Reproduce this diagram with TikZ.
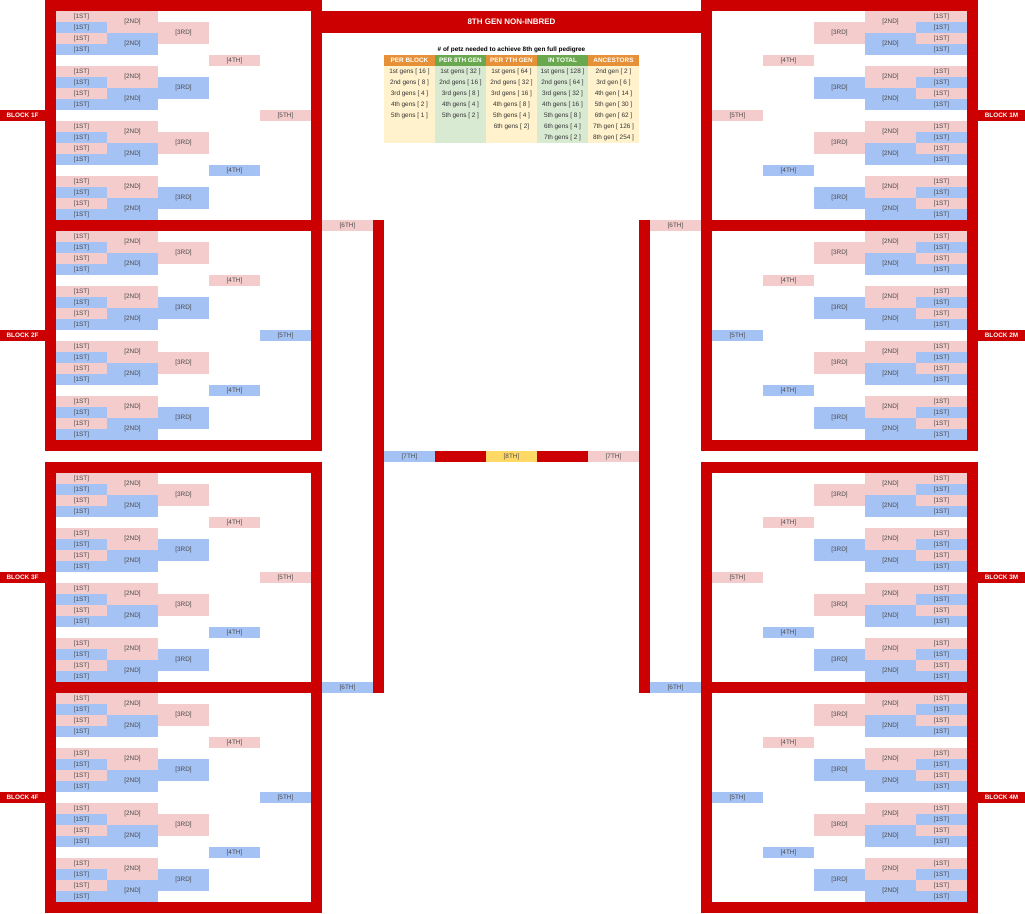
\documentclass[tikz,border=0pt]{standalone}
\usepackage{fontspec}
\setmainfont{Liberation Sans}
\definecolor{redc}{HTML}{CC0000}
\definecolor{pinkc}{HTML}{F4CCCC}
\definecolor{bluec}{HTML}{A4C2F4}
\definecolor{yelc}{HTML}{FFD966}
\definecolor{orc}{HTML}{E69138}
\definecolor{grc}{HTML}{6AA84F}
\definecolor{lyc}{HTML}{FFF2CC}
\definecolor{lgc}{HTML}{D9EAD3}
\definecolor{celltext}{HTML}{4A4A4A}
\definecolor{tabtext}{HTML}{333333}
\begin{document}
\begin{tikzpicture}[x=1pt,y=-1pt,
  cell/.style={anchor=north west, inner sep=0pt, outer sep=0pt, minimum width=51pt, minimum height=11pt, font=\fontsize{6.4}{7}\selectfont, text=celltext},
  tall/.style={minimum height=22pt},
  blabel/.style={anchor=north west, inner sep=0pt, outer sep=0pt, minimum height=11pt, fill=redc, text=white, font=\bfseries\fontsize{6.4}{7}\selectfont},
  thead/.style={anchor=north west, inner sep=0pt, outer sep=0pt, minimum width=51pt, minimum height=11pt, text=white, font=\bfseries\fontsize{6.4}{7}\selectfont},
  tbody/.style={anchor=north west, inner sep=0pt, outer sep=0pt, minimum width=51pt, minimum height=77pt},
  ttext/.style={anchor=center, inner sep=0pt, text=tabtext, font=\fontsize{6.4}{7}\selectfont},
]
\useasboundingbox[fill=white] (0,0) rectangle (1025,913);
% ---- red frames ----
\foreach \xa/\xb in {45/322,701/978}{
  \pgfmathsetmacro{\xc}{\xa+11}
  \pgfmathsetmacro{\xd}{\xb-11}
  \foreach \ya/\yb in {0/451,462/913}{
    \fill[redc] (\xa,\ya) rectangle (\xc,\yb);
    \fill[redc] (\xd,\ya) rectangle (\xb,\yb);
    \pgfmathsetmacro{\ye}{\ya+11}
    \pgfmathsetmacro{\yf}{\ya+220}
    \pgfmathsetmacro{\yg}{\ya+231}
    \pgfmathsetmacro{\yh}{\yb-11}
    \fill[redc] (\xa,\ya) rectangle (\xb,\ye);
    \fill[redc] (\xa,\yf) rectangle (\xb,\yg);
    \fill[redc] (\xa,\yh) rectangle (\xb,\yb);
  }
}
\fill[redc] (373,220) rectangle (384,693);
\fill[redc] (639,220) rectangle (650,693);
\fill[redc] (435,451) rectangle (486,462);
\fill[redc] (537,451) rectangle (588,462);
% ---- banner ----
\node[anchor=north west, inner sep=0pt, outer sep=0pt, minimum width=379pt, minimum height=22pt, fill=redc, text=white, font=\bfseries\fontsize{8}{9}\selectfont] (banner) at (322,11) {8TH GEN NON-INBRED};
% ---- blocks ----
\foreach \b/\R/\cf in {1/1/pinkc,2/21/bluec,3/43/pinkc,4/63/bluec}{
  \foreach \g/\ct in {0/pinkc,1/bluec,2/pinkc,3/bluec}{
    \pgfmathtruncatemacro{\s}{\R+5*\g}
    \foreach \i/\cc in {0/pinkc,1/bluec,2/pinkc,3/bluec}{
      \node[cell,fill=\cc] (LF\b-\g-a\i) at (56,{11*(\s+\i)}) {[1ST]};
      \node[cell,fill=\cc] (RM\b-\g-a\i) at (916,{11*(\s+\i)}) {[1ST]};
    }
    \node[cell,tall,fill=pinkc] (LF\b-\g-b0) at (107,{11*\s}) {[2ND]};
    \node[cell,tall,fill=bluec] (LF\b-\g-b1) at (107,{11*(\s+2)}) {[2ND]};
    \node[cell,tall,fill=\ct] (LF\b-\g-c) at (158,{11*(\s+1)}) {[3RD]};
    \node[cell,tall,fill=pinkc] (RM\b-\g-b0) at (865,{11*\s}) {[2ND]};
    \node[cell,tall,fill=bluec] (RM\b-\g-b1) at (865,{11*(\s+2)}) {[2ND]};
    \node[cell,tall,fill=\ct] (RM\b-\g-c) at (814,{11*(\s+1)}) {[3RD]};
  }
  \node[cell,fill=pinkc] (LF\b-d0) at (209,{11*(\R+4)}) {[4TH]};
  \node[cell,fill=bluec] (LF\b-d1) at (209,{11*(\R+14)}) {[4TH]};
  \node[cell,fill=\cf] (LF\b-e) at (260,{11*(\R+9)}) {[5TH]};
  \node[cell,fill=pinkc] (RM\b-d0) at (763,{11*(\R+4)}) {[4TH]};
  \node[cell,fill=bluec] (RM\b-d1) at (763,{11*(\R+14)}) {[4TH]};
  \node[cell,fill=\cf] (RM\b-e) at (712,{11*(\R+9)}) {[5TH]};
  \node[blabel,minimum width=45pt] (labF\b) at (0,{11*(\R+9)}) {BLOCK \b F};
  \node[blabel,minimum width=47pt] (labM\b) at (978,{11*(\R+9)}) {BLOCK \b M};
}
% ---- 6th / 7th / 8th ----
\node[cell,fill=pinkc] (sixA) at (322,220) {[6TH]};
\node[cell,fill=bluec] (sixB) at (322,682) {[6TH]};
\node[cell,fill=pinkc] (sixC) at (650,220) {[6TH]};
\node[cell,fill=bluec] (sixD) at (650,682) {[6TH]};
\node[cell,fill=bluec] (sevA) at (384,451) {[7TH]};
\node[cell,fill=yelc] (eight) at (486,451) {[8TH]};
\node[cell,fill=pinkc] (sevB) at (588,451) {[7TH]};
% ---- table ----
\node[inner sep=0pt, text=black, font=\bfseries\fontsize{6.4}{7}\selectfont] (ttitle) at (511.5,50) {\# of petz needed to achieve 8th gen full pedigree};
\node[thead,fill=orc] (hA) at (384,55) {PER BLOCK};
\node[thead,fill=grc] (hB) at (435,55) {PER 8TH GEN};
\node[thead,fill=orc] (hC) at (486,55) {PER 7TH GEN};
\node[thead,fill=grc] (hD) at (537,55) {IN TOTAL};
\node[thead,fill=orc] (hE) at (588,55) {ANCESTORS};
\node[tbody,fill=lyc] (bA) at (384,66) {};
\node[tbody,fill=lgc] (bB) at (435,66) {};
\node[tbody,fill=lyc] (bC) at (486,66) {};
\node[tbody,fill=lgc] (bD) at (537,66) {};
\node[tbody,fill=lyc] (bE) at (588,66) {};
\foreach \k/\t in {0/1st gens [ 16 ],1/2nd gens [ 8 ],2/3rd gens [ 4 ],3/4th gens [ 2 ],4/5th gens [ 1 ]}
  \node[ttext] (tA\k) at (409.5,{71.5+11*\k}) {\t};
\foreach \k/\t in {0/1st gens [ 32 ],1/2nd gens [ 16 ],2/3rd gens [ 8 ],3/4th gens [ 4 ],4/5th gens [ 2 ]}
  \node[ttext] (tB\k) at (460.5,{71.5+11*\k}) {\t};
\foreach \k/\t in {0/1st gens [ 64 ],1/2nd gens [ 32 ],2/3rd gens [ 16 ],3/4th gens [ 8 ],4/5th gens [ 4 ],5/6th gens [ 2]}
  \node[ttext] (tC\k) at (511.5,{71.5+11*\k}) {\t};
\foreach \k/\t in {0/1st gens [ 128 ],1/2nd gens [ 64 ],2/3rd gens [ 32 ],3/4th gens [ 16 ],4/5th gens [ 8 ],5/6th gens [ 4 ],6/7th gens [ 2 ]}
  \node[ttext] (tD\k) at (562.5,{71.5+11*\k}) {\t};
\foreach \k/\t in {0/2nd gen [ 2 ],1/3rd gen [ 6 ],2/4th gen [ 14 ],3/5th gen [ 30 ],4/6th gen [ 62 ],5/7th gen [ 126 ],6/8th gen [ 254 ]}
  \node[ttext] (tE\k) at (613.5,{71.5+11*\k}) {\t};
\end{tikzpicture}
\end{document}
